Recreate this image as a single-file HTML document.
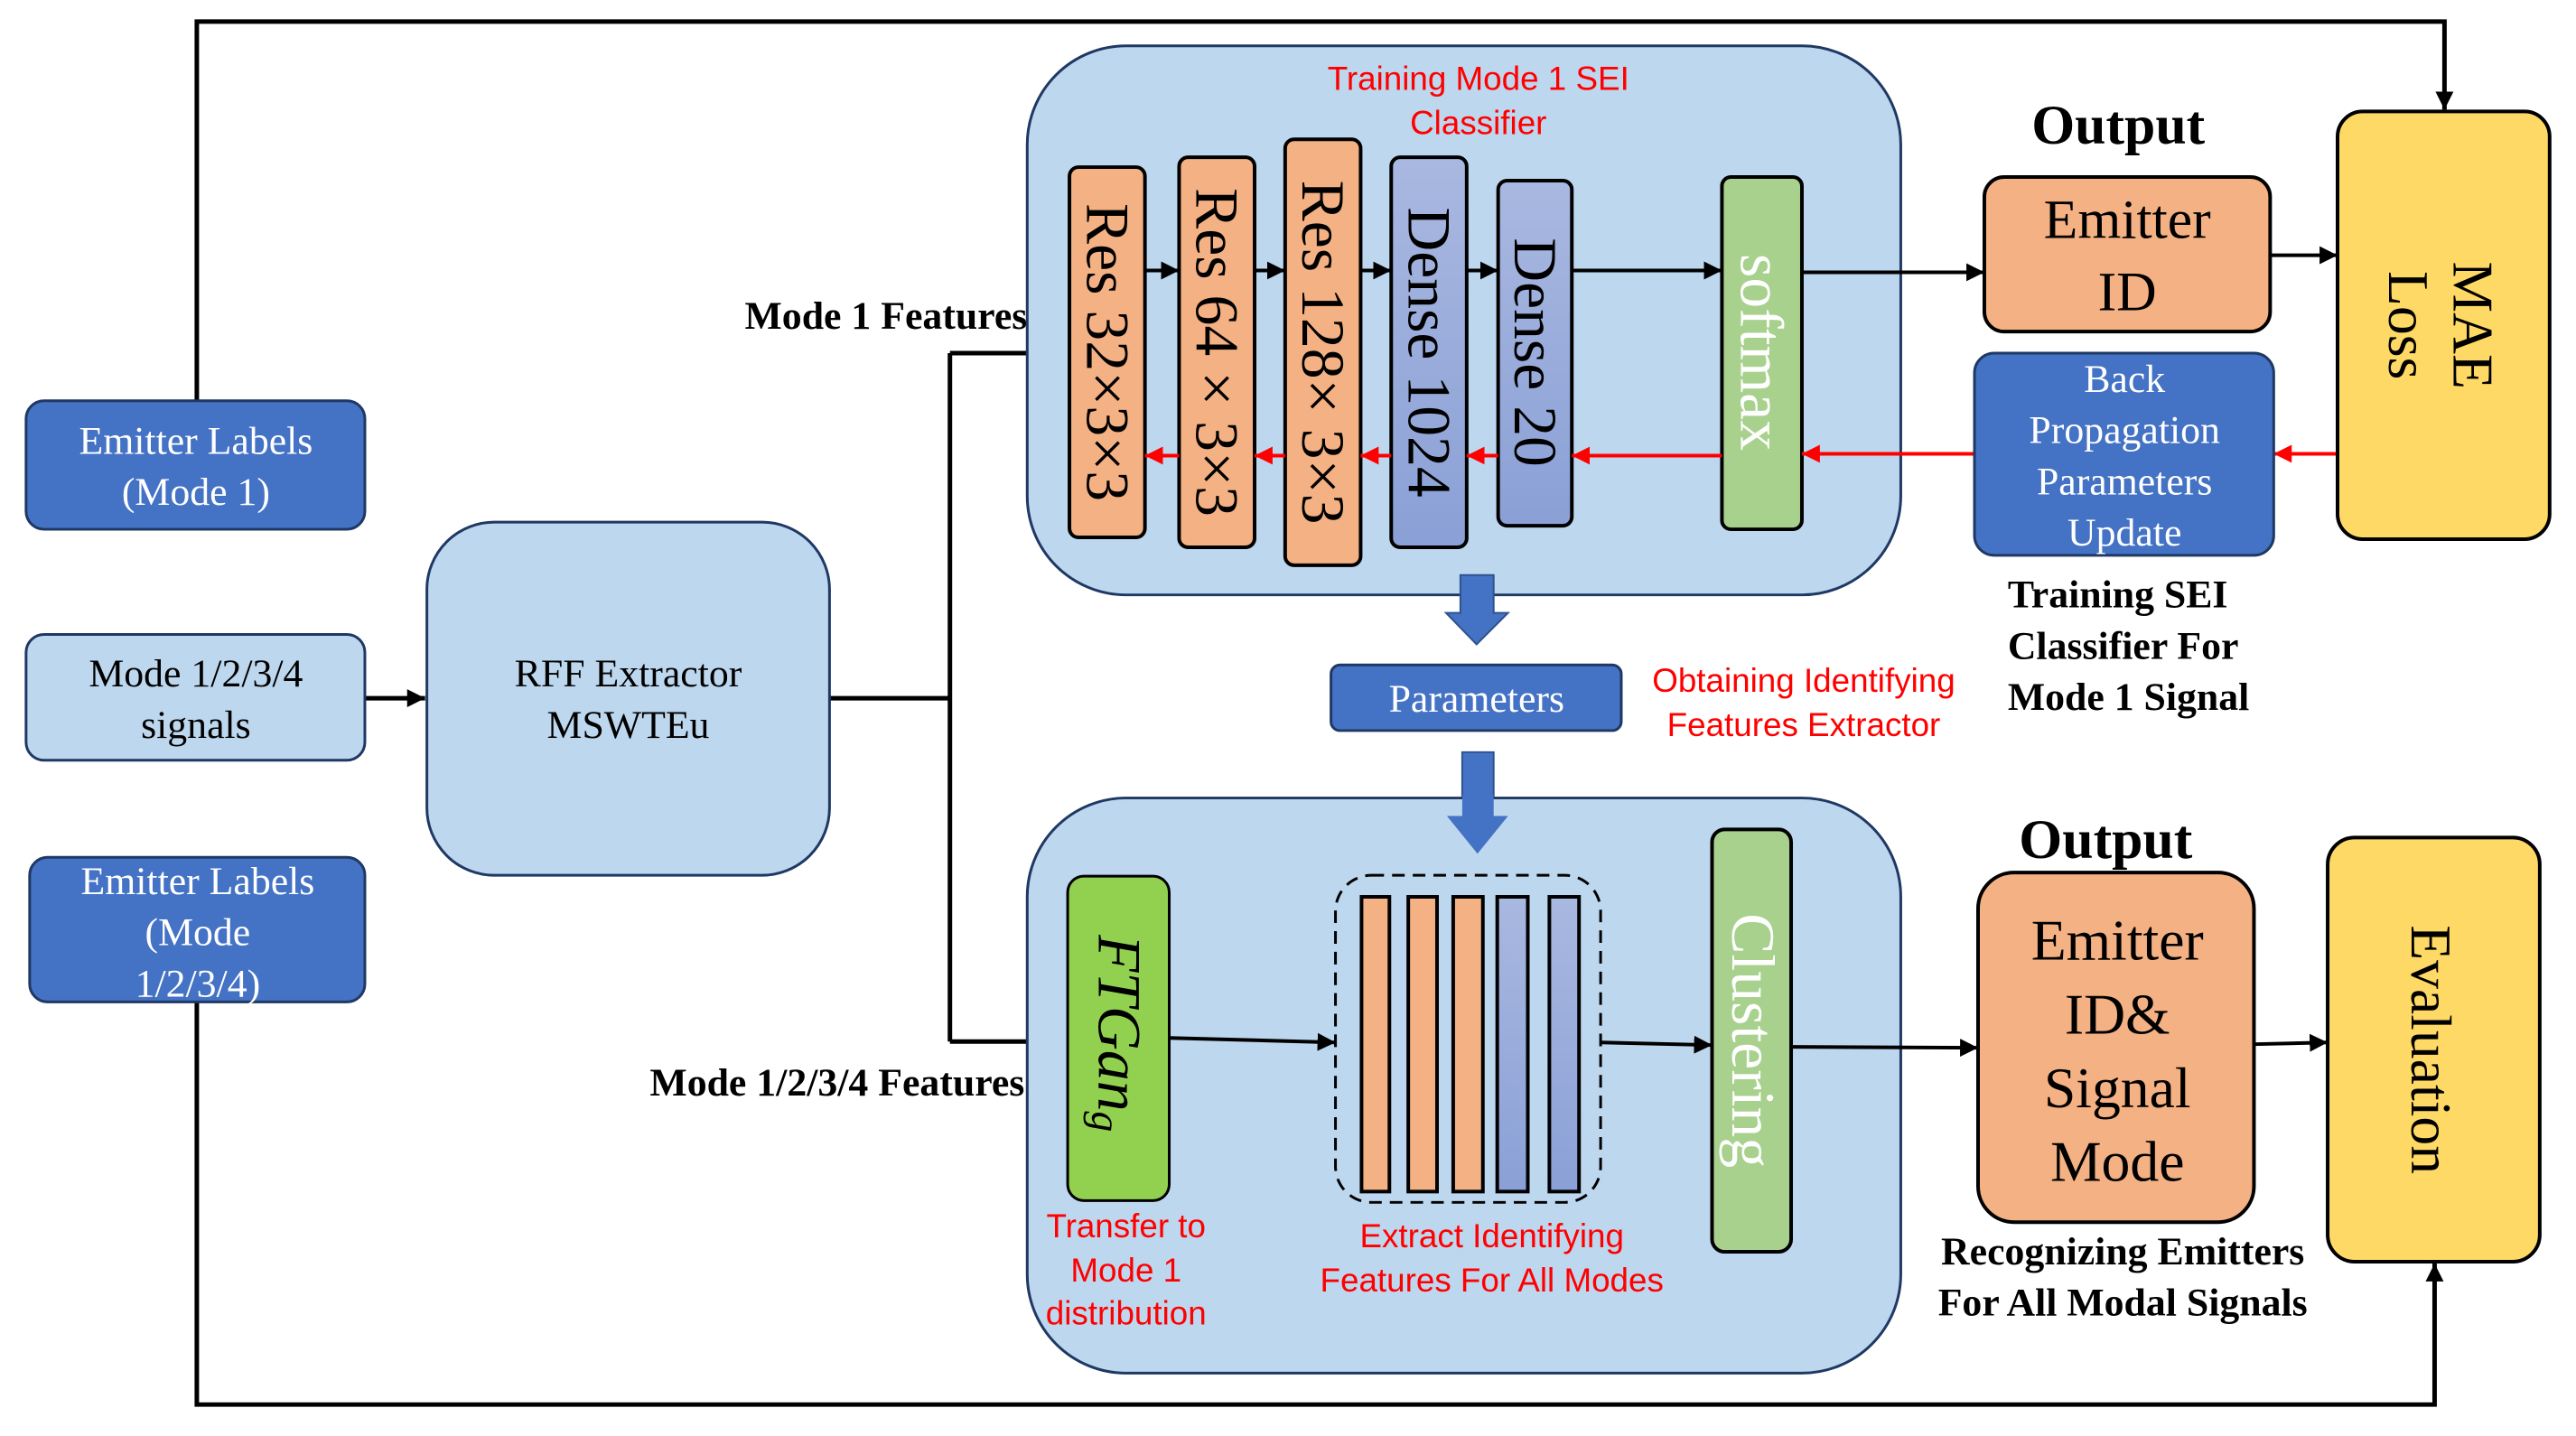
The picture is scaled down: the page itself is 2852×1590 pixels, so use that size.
<!DOCTYPE html>
<html><head><meta charset="utf-8"><style>
html,body{margin:0;padding:0;background:#fff}
svg{display:block}
text{font-family:"Liberation Serif",serif}
.r{fill:#ff0000;font-family:"Liberation Sans Narrow","Liberation Sans",sans-serif;font-size:37px}
.b{font-weight:bold;font-size:44px}
</style></head><body>
<svg width="2852" height="1590" viewBox="0 0 2852 1590" xmlns="http://www.w3.org/2000/svg">
<defs>
<marker id="k" viewBox="0 0 10 10" refX="10" refY="5" markerWidth="20" markerHeight="20" orient="auto" markerUnits="userSpaceOnUse"><path d="M0,0 L10,5 L0,10z" fill="#000"/></marker>
<marker id="rd" viewBox="0 0 10 10" refX="10" refY="5" markerWidth="20" markerHeight="20" orient="auto" markerUnits="userSpaceOnUse"><path d="M0,0 L10,5 L0,10z" fill="#f00"/></marker>
<linearGradient id="bl" x1="0" y1="0" x2="0" y2="1"><stop offset="0" stop-color="#a9b8e0"/><stop offset="1" stop-color="#8aa0d6"/></linearGradient>
</defs>
<g transform="scale(0.995)">
<g stroke="#000" stroke-width="5" fill="none">
<polyline points="219,446 219,24 2720,24 2720,122" marker-end="url(#k)"/>
<polyline points="219,1115 219,1563 2709,1563 2709,1406" marker-end="url(#k)"/>
<line x1="406" y1="777" x2="473" y2="777" marker-end="url(#k)"/>
<polyline points="923,777 1057,777"/>
<polyline points="1057,393 1057,1159"/>
<line x1="1057" y1="393" x2="1190" y2="393" marker-end="url(#k)"/>
<line x1="1057" y1="1159" x2="1188" y2="1159" marker-end="url(#k)"/>
</g>
<rect x="29" y="446" width="377" height="143" rx="20" fill="#4472c4" stroke="#1f3864" stroke-width="3"/>
<text x="218" y="505" font-size="44" fill="#fff" text-anchor="middle">Emitter Labels</text>
<text x="218" y="562" font-size="44" fill="#fff" text-anchor="middle">(Mode 1)</text>
<rect x="29" y="706" width="377" height="140" rx="20" fill="#bdd7ee" stroke="#1f3864" stroke-width="3"/>
<text x="218" y="764" font-size="44" text-anchor="middle">Mode 1/2/3/4</text>
<text x="218" y="821" font-size="44" text-anchor="middle">signals</text>
<rect x="33" y="954" width="373" height="161" rx="20" fill="#4472c4" stroke="#1f3864" stroke-width="3"/>
<text x="220" y="995" font-size="44" fill="#fff" text-anchor="middle">Emitter Labels</text>
<text x="220" y="1052" font-size="44" fill="#fff" text-anchor="middle">(Mode</text>
<text x="220" y="1109" font-size="44" fill="#fff" text-anchor="middle">1/2/3/4)</text>
<rect x="475" y="581" width="448" height="393" rx="75" fill="#bdd7ee" stroke="#1f3864" stroke-width="3"/>
<text x="699" y="764" font-size="44" text-anchor="middle">RFF Extractor</text>
<text x="699" y="821" font-size="44" text-anchor="middle">MSWTEu</text>
<text x="1143" y="366" class="b" text-anchor="end">Mode 1 Features</text>
<text x="1140" y="1219" class="b" text-anchor="end">Mode 1/2/3/4 Features</text>
<rect x="1143" y="51" width="972" height="611" rx="110" fill="#bdd7ee" stroke="#1f3864" stroke-width="3"/>
<text x="1645" y="100" class="r" text-anchor="middle">Training Mode 1 SEI</text>
<text x="1645" y="149" class="r" text-anchor="middle">Classifier</text>
<g stroke="#000" stroke-width="4">
<rect x="1190" y="186" width="84" height="412" rx="10" fill="#f4b183"/>
<rect x="1312" y="175" width="84" height="434" rx="10" fill="#f4b183"/>
<rect x="1430" y="155" width="84" height="474" rx="10" fill="#f4b183"/>
<rect x="1548" y="175" width="84" height="434" rx="10" fill="url(#bl)"/>
<rect x="1667" y="201" width="82" height="384" rx="10" fill="url(#bl)"/>
<rect x="1916" y="197" width="89" height="392" rx="10" fill="#a9d18e"/>
</g>
<g font-size="68" text-anchor="middle" dominant-baseline="central">
<text transform="translate(1232,392) rotate(90)">Res 32×3×3</text>
<text transform="translate(1354,392) rotate(90)">Res 64 × 3×3</text>
<text transform="translate(1472,392) rotate(90)">Res 128× 3×3</text>
<text transform="translate(1590,392) rotate(90)">Dense 1024</text>
<text transform="translate(1708,392) rotate(90)">Dense 20</text>
<text transform="translate(1960,392) rotate(90)" fill="#fff">softmax</text>
</g>
<g stroke="#000" stroke-width="4">
<line x1="1274" y1="301" x2="1312" y2="301" marker-end="url(#k)"/>
<line x1="1396" y1="301" x2="1430" y2="301" marker-end="url(#k)"/>
<line x1="1514" y1="301" x2="1548" y2="301" marker-end="url(#k)"/>
<line x1="1632" y1="301" x2="1667" y2="301" marker-end="url(#k)"/>
<line x1="1749" y1="301" x2="1916" y2="301" marker-end="url(#k)"/>
<line x1="2005" y1="303" x2="2208" y2="303" marker-end="url(#k)"/>
<line x1="2526" y1="284" x2="2601" y2="284" marker-end="url(#k)"/>
</g>
<g stroke="#f00" stroke-width="4">
<line x1="1312" y1="507" x2="1274" y2="507" marker-end="url(#rd)"/>
<line x1="1430" y1="507" x2="1396" y2="507" marker-end="url(#rd)"/>
<line x1="1548" y1="507" x2="1514" y2="507" marker-end="url(#rd)"/>
<line x1="1667" y1="507" x2="1632" y2="507" marker-end="url(#rd)"/>
<line x1="1916" y1="507" x2="1749" y2="507" marker-end="url(#rd)"/>
<line x1="2197" y1="505" x2="2005" y2="505" marker-end="url(#rd)"/>
<line x1="2601" y1="505" x2="2530" y2="505" marker-end="url(#rd)"/>
</g>
<text x="2357" y="160" font-size="62" font-weight="bold" text-anchor="middle">Output</text>
<rect x="2208" y="197" width="318" height="172" rx="22" fill="#f4b183" stroke="#000" stroke-width="4"/>
<text x="2367" y="265" font-size="62" text-anchor="middle">Emitter</text>
<text x="2367" y="345" font-size="62" text-anchor="middle">ID</text>
<rect x="2601" y="124" width="236" height="476" rx="28" fill="#ffd966" stroke="#000" stroke-width="4"/>
<g font-size="64" text-anchor="middle" dominant-baseline="central">
<text transform="translate(2752,362) rotate(90)">MAE</text>
<text transform="translate(2680,362) rotate(90)">Loss</text>
</g>
<rect x="2197" y="393" width="333" height="225" rx="22" fill="#4472c4" stroke="#1f3864" stroke-width="3"/>
<g font-size="44" fill="#fff" text-anchor="middle">
<text x="2364" y="436">Back</text>
<text x="2364" y="493">Propagation</text>
<text x="2364" y="550">Parameters</text>
<text x="2364" y="607">Update</text>
</g>
<text x="2234" y="676" class="b">Training SEI</text>
<text x="2234" y="733" class="b">Classifier For</text>
<text x="2234" y="790" class="b">Mode 1 Signal</text>
<path d="M1625,640 H1662 V682 H1678 L1643,717 L1609,682 H1625Z" fill="#4472c4" stroke="#2f528f" stroke-width="2"/>
<rect x="1481" y="740" width="323" height="73" rx="10" fill="#4472c4" stroke="#1f3864" stroke-width="3"/>
<text x="1643" y="792" font-size="44" fill="#fff" text-anchor="middle">Parameters</text>
<text x="2007" y="770" class="r" text-anchor="middle">Obtaining Identifying</text>
<text x="2007" y="819" class="r" text-anchor="middle">Features Extractor</text>
<path d="M1627,837 H1662 V908 H1678 L1644,950 L1610,908 H1627Z" fill="#4472c4" stroke="#2f528f" stroke-width="2"/>
<rect x="1143" y="888" width="972" height="640" rx="110" fill="#bdd7ee" stroke="#1f3864" stroke-width="3"/>
<path d="M1627,885 H1662 V908 H1678 L1644,950 L1610,908 H1627Z" fill="#4472c4"/>
<rect x="1188" y="975" width="113" height="361" rx="18" fill="#92d050" stroke="#000" stroke-width="3"/>
<text transform="translate(1245,1150) rotate(90)" font-size="68" font-style="italic" text-anchor="middle" dominant-baseline="central">FTGan<tspan font-size="46" dy="14">g</tspan></text>
<rect x="1486" y="974" width="295" height="364" rx="40" fill="none" stroke="#000" stroke-width="3" stroke-dasharray="14,9"/>
<g stroke="#000" stroke-width="4">
<rect x="1515" y="998" width="31" height="328" fill="#f4b183"/>
<rect x="1567" y="998" width="32" height="328" fill="#f4b183"/>
<rect x="1617" y="998" width="33" height="328" fill="#f4b183"/>
<rect x="1666" y="998" width="34" height="328" fill="url(#bl)"/>
<rect x="1724" y="998" width="33" height="328" fill="url(#bl)"/>
</g>
<rect x="1905" y="923" width="88" height="470" rx="14" fill="#a9d18e" stroke="#000" stroke-width="4"/>
<text transform="translate(1950,1158) rotate(90)" font-size="68" fill="#fff" text-anchor="middle" dominant-baseline="central">Clustering</text>
<g stroke="#000" stroke-width="4">
<line x1="1301" y1="1155" x2="1486" y2="1160" marker-end="url(#k)"/>
<line x1="1781" y1="1160" x2="1905" y2="1163" marker-end="url(#k)"/>
<line x1="1993" y1="1165" x2="2201" y2="1166" marker-end="url(#k)"/>
<line x1="2508" y1="1162" x2="2590" y2="1160" marker-end="url(#k)"/>
</g>
<text x="1253" y="1377" class="r" text-anchor="middle">Transfer to</text>
<text x="1253" y="1426" class="r" text-anchor="middle">Mode 1</text>
<text x="1253" y="1474" class="r" text-anchor="middle">distribution</text>
<text x="1660" y="1388" class="r" text-anchor="middle">Extract Identifying</text>
<text x="1660" y="1437" class="r" text-anchor="middle">Features For All Modes</text>
<text x="2343" y="955" font-size="62" font-weight="bold" text-anchor="middle">Output</text>
<rect x="2201" y="971" width="307" height="389" rx="40" fill="#f4b183" stroke="#000" stroke-width="4"/>
<g font-size="64" text-anchor="middle">
<text x="2356" y="1068">Emitter</text>
<text x="2356" y="1150">ID&amp;</text>
<text x="2356" y="1232">Signal</text>
<text x="2356" y="1314">Mode</text>
</g>
<rect x="2590" y="932" width="236" height="472" rx="30" fill="#ffd966" stroke="#000" stroke-width="4"/>
<text transform="translate(2705,1168) rotate(90)" font-size="64" text-anchor="middle" dominant-baseline="central">Evaluation</text>
<text x="2362" y="1407" class="b" text-anchor="middle">Recognizing Emitters</text>
<text x="2362" y="1464" class="b" text-anchor="middle">For All Modal Signals</text>
</g>
</svg>
</body></html>
